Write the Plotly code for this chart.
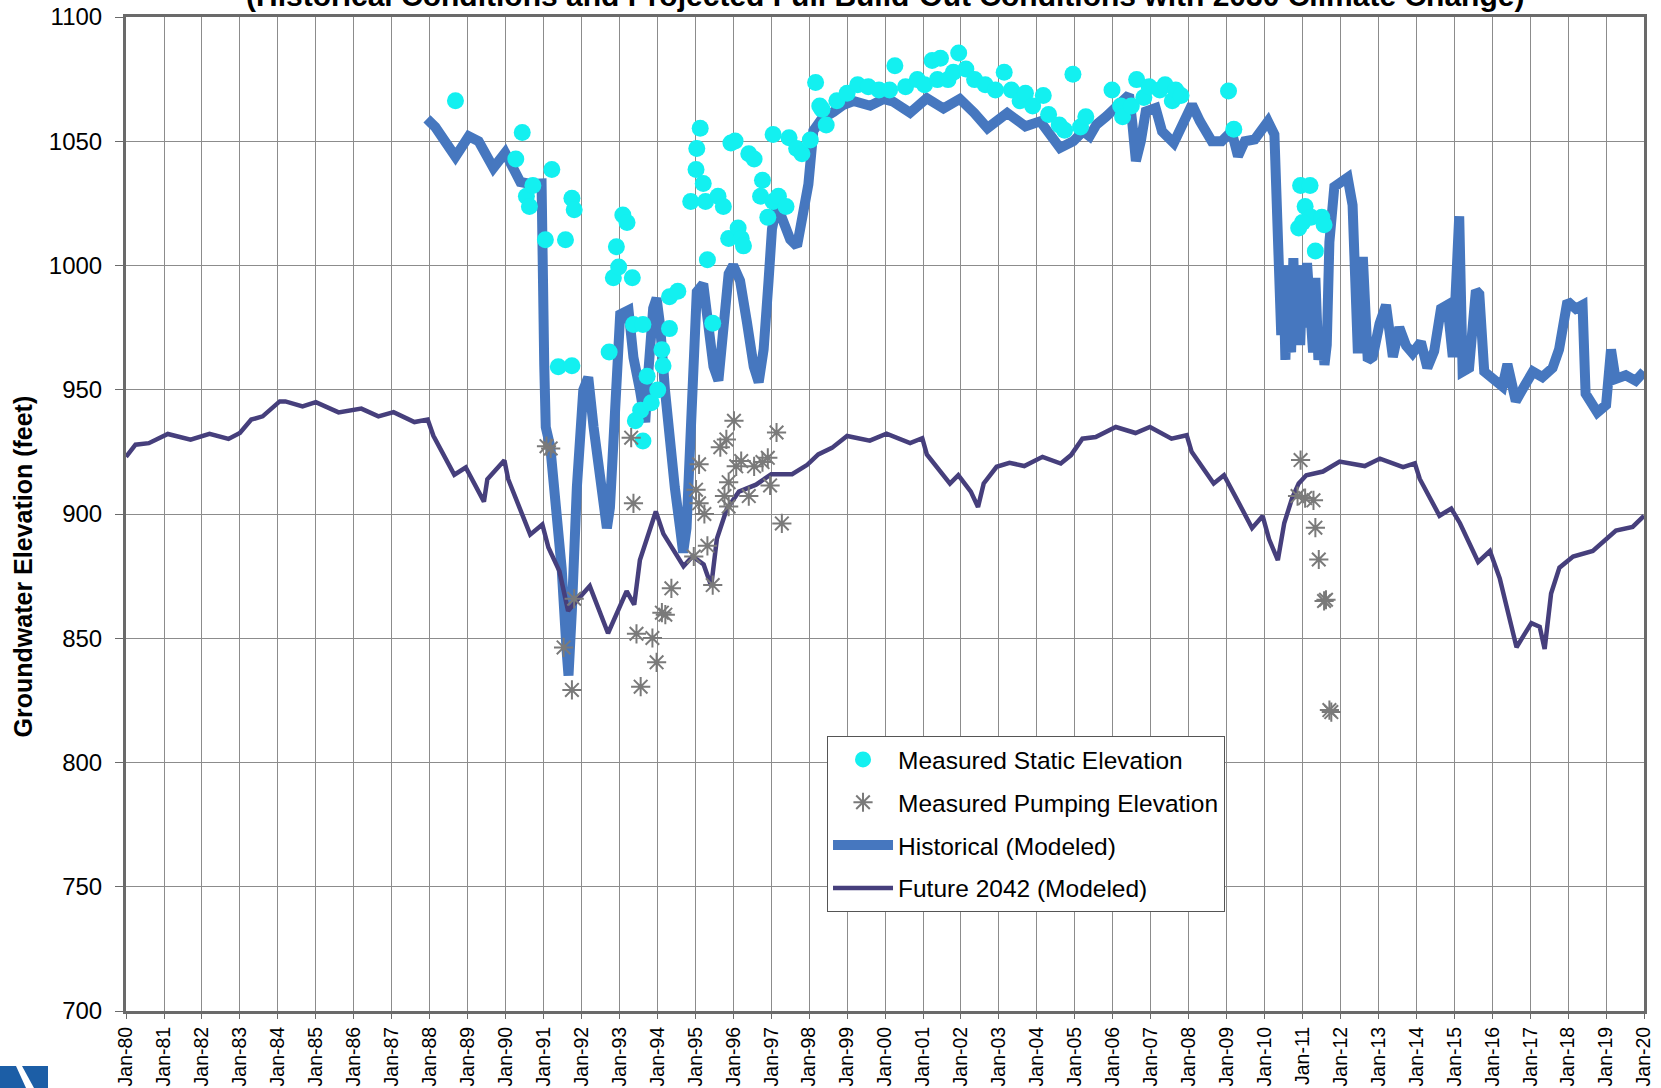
import pandas as pd
import plotly.graph_objects as go

# ---- series values (decimal year, elevation in feet) ----
hist_years = [
    1987.93, 1988.15, 1988.68, 1989.03, 1989.29, 1989.68, 1989.99, 1990.21, 1990.39, 1990.65,
    1990.95, 1991.02, 1991.06, 1991.18, 1991.35, 1991.48, 1991.61, 1991.66, 1991.75, 1991.88,
    1992.05, 1992.18, 1992.32, 1992.40, 1992.54, 1992.67, 1992.75, 1992.84, 1992.93, 1993.02,
    1993.24, 1993.37, 1993.54, 1993.68, 1993.76, 1993.89, 1993.98, 1994.07, 1994.20, 1994.33,
    1994.46, 1994.60, 1994.68, 1994.77, 1994.86, 1994.95, 1995.04, 1995.21, 1995.35, 1995.48,
    1995.61, 1995.75, 1995.88, 1996.00, 1996.18, 1996.36, 1996.54, 1996.67, 1996.80, 1996.93,
    1997.02, 1997.15, 1997.32, 1997.50, 1997.68, 1997.85, 1997.98, 1998.11, 1998.33, 1998.64,
    1998.89, 1999.17, 1999.61, 1999.96, 2000.22, 2000.66, 2001.10, 2001.54, 2001.97, 2002.35,
    2002.70, 2003.22, 2003.70, 2004.09, 2004.61, 2004.96, 2005.22, 2005.39, 2005.57, 2005.83,
    2006.17, 2006.43, 2006.52, 2006.61, 2006.74, 2006.87, 2007.13, 2007.30, 2007.61, 2007.91,
    2008.09, 2008.30, 2008.61, 2008.87, 2009.13, 2009.30, 2009.48, 2009.74, 2010.09, 2010.26,
    2010.35, 2010.44, 2010.50, 2010.55, 2010.62, 2010.70, 2010.76, 2010.82, 2010.88, 2010.94,
    2011.00, 2011.06, 2011.12, 2011.20, 2011.28, 2011.34, 2011.42, 2011.50, 2011.58, 2011.64,
    2011.71, 2011.84, 2012.02, 2012.19, 2012.32, 2012.46, 2012.59, 2012.72, 2012.85, 2013.03,
    2013.20, 2013.38, 2013.55, 2013.73, 2013.90, 2014.12, 2014.29, 2014.47, 2014.65, 2014.82,
    2014.96, 2015.13, 2015.22, 2015.39, 2015.57, 2015.66, 2015.79, 2016.01, 2016.27, 2016.40,
    2016.62, 2016.84, 2017.07, 2017.32, 2017.59, 2017.76, 2017.98, 2018.20, 2018.38, 2018.46,
    2018.77, 2019.00, 2019.13, 2019.25, 2019.52, 2019.78, 2020.00,
]
hist_elev = [
    1059.0, 1055.7, 1043.8, 1052.0, 1050.0, 1039.3, 1045.4, 1039.3, 1033.6, 1032.8,
    1033.0, 960.0, 935.0, 927.0, 902.5, 878.0, 845.0, 835.0, 861.5, 910.7,
    950.0, 955.0, 935.0, 927.0, 909.0, 894.3, 902.5, 935.0, 969.7, 980.3,
    982.0, 963.0, 950.0, 936.9, 956.6, 982.8, 986.9, 976.2, 950.0, 927.0,
    910.7, 894.3, 884.5, 894.3, 927.0, 968.0, 989.4, 992.6, 973.1, 959.3,
    953.7, 973.1, 996.7, 1000.1, 993.9, 977.3, 959.3, 953.0, 966.2, 993.9,
    1014.7, 1024.4, 1016.1, 1010.5, 1007.8, 1021.6, 1032.7, 1054.2, 1059.0, 1061.8,
    1064.5, 1066.2, 1064.3, 1067.0, 1065.9, 1061.5, 1067.3, 1063.2, 1067.0, 1061.4,
    1055.3, 1061.4, 1056.0, 1058.0, 1047.3, 1050.0, 1054.0, 1052.0, 1056.7, 1060.0,
    1064.7, 1068.7, 1056.7, 1042.0, 1050.0, 1062.0, 1063.4, 1054.0, 1049.3, 1059.4,
    1064.7, 1058.0, 1050.0, 1050.0, 1054.0, 1044.0, 1050.0, 1050.7, 1058.0, 1052.7,
    1020.0, 972.0, 995.0, 962.0, 1000.0, 965.0, 1003.0, 970.0, 1000.0, 968.0,
    998.0, 975.0, 1001.0, 978.0, 965.0, 995.0, 962.0, 975.0, 960.0, 968.0,
    1009.4, 1031.7, 1033.9, 1035.4, 1024.3, 964.7, 1003.4, 961.8, 963.2, 976.6,
    984.1, 963.2, 975.1, 967.7, 964.7, 969.2, 958.8, 965.5, 982.6, 984.1,
    963.2, 1019.8, 957.3, 958.8, 990.0, 988.5, 957.3, 954.3, 951.3, 960.3,
    945.4, 951.3, 957.3, 955.1, 958.8, 966.2, 985.6, 982.6, 984.1, 948.4,
    940.9, 943.9, 966.2, 954.3, 955.8, 953.6, 957.3,
]

future_years = [
    1980.00, 1980.25, 1980.60, 1981.10, 1981.70, 1982.20, 1982.70, 1983.00, 1983.30, 1983.60,
    1984.05, 1984.20, 1984.65, 1985.00, 1985.60, 1986.20, 1986.65, 1987.05, 1987.60, 1987.95,
    1988.10, 1988.65, 1988.95, 1989.43, 1989.52, 1989.97, 1990.07, 1990.65, 1990.97, 1991.13,
    1991.42, 1991.65, 1991.87, 1992.22, 1992.70, 1993.19, 1993.39, 1993.54, 1993.96, 1994.16,
    1994.69, 1994.93, 1995.22, 1995.42, 1995.57, 1995.83, 1996.15, 1996.60, 1997.00, 1997.55,
    1997.95, 1998.24, 1998.60, 1999.00, 1999.60, 2000.04, 2000.66, 2000.98, 2001.10, 2001.71,
    2001.93, 2002.26, 2002.45, 2002.60, 2002.94, 2003.28, 2003.67, 2004.15, 2004.63, 2004.90,
    2005.20, 2005.55, 2006.08, 2006.60, 2006.98, 2007.55, 2007.95, 2008.08, 2008.66, 2008.93,
    2009.32, 2009.67, 2009.95, 2010.12, 2010.35, 2010.52, 2010.73, 2010.90, 2011.10, 2011.54,
    2011.98, 2012.64, 2013.04, 2013.65, 2013.96, 2014.09, 2014.61, 2014.92, 2015.15, 2015.63,
    2015.94, 2016.20, 2016.64, 2017.03, 2017.25, 2017.38, 2017.55, 2017.77, 2018.13, 2018.65,
    2019.26, 2019.70, 2020.00,
]
future_elev = [
    923.0, 927.9, 928.5, 932.2, 929.9, 932.3, 930.2, 932.6, 938.0, 939.3,
    945.3, 945.3, 943.3, 945.0, 940.9, 942.4, 939.3, 941.0, 937.0, 938.0,
    931.5, 915.8, 918.7, 905.0, 914.0, 921.6, 914.0, 891.7, 895.8, 886.5,
    877.0, 861.0, 865.0, 871.0, 852.0, 869.0, 863.5, 881.5, 901.0, 892.0,
    879.0, 883.0, 879.7, 871.0, 890.0, 902.0, 909.0, 911.8, 916.0, 916.0,
    919.8, 924.0, 926.6, 931.4, 929.5, 932.3, 928.5, 930.5, 924.0, 912.2,
    915.6, 909.0, 902.8, 912.3, 919.0, 920.6, 919.3, 923.0, 920.3, 923.7,
    930.3, 931.0, 935.0, 932.6, 935.0, 930.3, 931.7, 925.0, 912.3, 915.6,
    904.5, 894.3, 899.2, 889.8, 881.4, 896.4, 906.5, 912.3, 915.6, 917.1,
    921.1, 919.3, 922.3, 918.9, 920.4, 914.1, 899.3, 902.2, 896.3, 880.7,
    885.1, 874.0, 846.4, 856.1, 854.6, 845.7, 868.0, 878.4, 882.9, 885.1,
    893.3, 894.8, 899.3,
]

static_years = [
    1988.68, 1990.44, 1990.27, 1990.55, 1990.63, 1990.72, 1991.22, 1991.05, 1991.58, 1991.75,
    1991.81, 1991.39, 1991.75, 1993.09, 1993.20, 1992.92, 1992.84, 1992.98, 1993.34, 1992.73,
    1993.37, 1993.62, 1993.56, 1993.62, 1993.42, 1993.73, 1993.84, 1994.12, 1994.15, 1994.01,
    1994.32, 1994.32, 1994.54, 1994.88, 1995.02, 1995.04, 1995.13, 1995.21, 1995.27, 1995.32,
    1995.46, 1995.60, 1995.74, 1995.94, 1996.05, 1995.88, 1996.13, 1996.21, 1996.27, 1996.41,
    1996.55, 1996.77, 1996.72, 1997.05, 1996.91, 1997.05, 1997.19, 1997.39, 1997.47, 1997.67,
    1997.81, 1998.03, 1998.17, 1998.28, 1998.45, 1998.34, 1998.73, 1999.00, 1999.28, 1999.56,
    1999.84, 2000.12, 2000.26, 2000.54, 2000.85, 2001.04, 2001.24, 2001.46, 2001.38, 2001.66,
    2001.94, 2001.80, 2002.13, 2002.36, 2002.64, 2002.91, 2003.14, 2003.33, 2003.56, 2003.70,
    2003.89, 2004.17, 2004.31, 2004.59, 2004.73, 2004.95, 2005.15, 2005.29, 2005.98, 2006.21,
    2006.26, 2006.49, 2006.63, 2006.82, 2006.96, 2007.24, 2007.38, 2007.57, 2007.66, 2007.80,
    2009.05, 2009.19, 2010.95, 2011.20, 2011.07, 2011.23, 2010.90, 2011.00, 2011.51, 2011.57,
    2011.34,
]
static_elev = [
    1066.3, 1053.5, 1042.9, 1027.9, 1023.7, 1032.2, 1038.6, 1010.4, 1010.4, 1027.1,
    1022.4, 959.3, 959.7, 1020.3, 1017.3, 1007.5, 995.1, 999.4, 995.1, 965.2,
    976.3, 976.3, 941.8, 929.4, 937.5, 955.4, 944.8, 966.1, 959.7, 949.9,
    974.6, 987.4, 989.6, 1025.8, 1038.6, 1047.1, 1055.2, 1033.0, 1025.8, 1002.3,
    976.8, 1027.9, 1023.7, 1049.3, 1050.1, 1010.9, 1015.1, 1010.9, 1007.9, 1045.0,
    1042.9, 1034.3, 1027.9, 1052.7, 1019.4, 1025.8, 1027.9, 1023.7, 1051.4, 1047.1,
    1045.0, 1050.5, 1073.6, 1064.2, 1056.5, 1062.9, 1066.3, 1069.3, 1072.7, 1071.9,
    1070.6, 1070.6, 1080.4, 1071.9, 1074.8, 1072.7, 1082.5, 1083.4, 1074.8, 1074.8,
    1085.5, 1077.8, 1079.1, 1074.8, 1072.7, 1070.6, 1077.8, 1070.6, 1066.3, 1069.3,
    1064.2, 1068.4, 1060.8, 1056.5, 1054.4, 1077.0, 1055.7, 1059.9, 1070.6, 1064.2,
    1059.9, 1064.2, 1074.8, 1067.6, 1071.9, 1070.6, 1072.7, 1066.3, 1070.6, 1068.4,
    1070.2, 1054.8, 1032.2, 1032.2, 1023.7, 1019.4, 1015.1, 1017.3, 1019.4, 1016.4,
    1005.8,
]

pumping_years = [
    1991.08, 1991.19, 1991.53, 1991.75, 1991.81, 1993.31, 1993.37, 1993.45, 1993.56, 1993.87,
    1993.98, 1994.12, 1994.21, 1994.37, 1994.96, 1995.10, 1995.02, 1995.24, 1995.10, 1995.32,
    1995.46, 1995.66, 1995.77, 1995.88, 1996.02, 1996.08, 1996.21, 1996.41, 1996.55, 1996.77,
    1996.91, 1996.97, 1997.14, 1997.28, 1995.88, 1995.82, 2010.95, 2010.87, 2011.07, 2011.29,
    2011.34, 2011.43, 2011.57, 2011.62, 2011.71, 2011.76,
]
pumping_elev = [
    927.3, 926.4, 846.3, 829.2, 865.9, 930.7, 904.3, 851.8, 830.5, 850.1,
    840.3, 860.3, 859.5, 870.1, 882.9, 920.0, 909.8, 900.0, 904.3, 887.2,
    871.4, 926.9, 907.2, 903.0, 937.5, 919.2, 921.3, 907.2, 919.2, 920.9,
    922.6, 911.5, 932.8, 896.2, 912.8, 930.0, 921.7, 907.2, 906.4, 905.5,
    894.5, 881.7, 865.0, 865.5, 821.1, 820.3,
]

tick_years = list(range(1980, 2021))
tick_labels = [f"Jan-{y % 100:02d}" for y in tick_years]

TITLE = "(Historical Conditions and Projected Full Build-Out Conditions with 2030 Climate Change)"
Y_TITLE = "Groundwater Elevation (feet)"


def to_dates(years):
    """Convert decimal years to timestamps for the date axis."""
    out = []
    for y in years:
        yr = int(y)
        start = pd.Timestamp(yr, 1, 1)
        end = pd.Timestamp(yr + 1, 1, 1)
        out.append(start + (end - start) * (y - yr))
    return out


FONT = "Arial, Liberation Sans, sans-serif"
GRID = "#8c8c8c"
AXIS = "#6a6a6a"

fig = go.Figure()

fig.add_trace(go.Scatter(
    x=to_dates(hist_years), y=hist_elev, mode="lines",
    name="Historical (Modeled)", legendrank=3, legendgroup="c",
    line=dict(color="#4677BF", width=10),
))
fig.add_trace(go.Scatter(
    x=to_dates(future_years), y=future_elev, mode="lines",
    name="Future 2042 (Modeled)", legendrank=4, legendgroup="d",
    line=dict(color="#463F7C", width=4.5),
))
fig.add_trace(go.Scatter(
    x=to_dates(static_years), y=static_elev, mode="markers",
    name="Measured Static Elevation", legendrank=1, legendgroup="a",
    marker=dict(symbol="circle", size=17, color="#13F0F0"),
))
fig.add_trace(go.Scatter(
    x=to_dates(pumping_years), y=pumping_elev, mode="markers",
    name="Measured Pumping Elevation", legendrank=2, legendgroup="b",
    marker=dict(symbol="asterisk-open", size=16, color="#7a7a7a",
                line=dict(color="#7a7a7a", width=2)),
))

fig.update_xaxes(
    type="date",
    range=["1980-01-01", "2020-01-01"],
    tickmode="array",
    tickvals=[f"{y}-01-01" for y in tick_years],
    ticktext=tick_labels,
    tickangle=-90,
    tickfont=dict(family=FONT, size=19.5, color="#000000"),
    showgrid=True, gridcolor=GRID, gridwidth=1,
    showline=True, linecolor=AXIS, linewidth=3, mirror=True,
    ticks="outside", ticklen=5, tickcolor=AXIS, tickwidth=1,
    zeroline=False, automargin=False,
)
fig.update_yaxes(
    range=[700, 1100],
    tick0=700, dtick=50,
    tickfont=dict(family=FONT, size=24, color="#000000"),
    showgrid=True, gridcolor=GRID, gridwidth=1,
    showline=True, linecolor=AXIS, linewidth=3, mirror=True,
    ticks="outside", ticklen=8, tickcolor=AXIS, tickwidth=1,
    ticklabelstandoff=8,
    zeroline=False, automargin=False,
)

fig.add_annotation(
    text=f"<b>{TITLE}</b>", xref="paper", yref="paper",
    x=0.5, y=1.0035, xanchor="center", yanchor="bottom", showarrow=False,
    font=dict(family=FONT, size=30, color="#000000"),
)
fig.add_annotation(
    text=f"<b>{Y_TITLE}</b>", xref="paper", yref="paper",
    x=-0.068, y=0.447, xanchor="center", yanchor="middle", showarrow=False,
    textangle=-90, font=dict(family=FONT, size=25, color="#000000"),
)

# partial logo mark in the lower-left corner
def px_to_paper(px, py):
    return (px - 126) / 1518, (1011 - py) / 994

logo_a = [(0, 1066), (16, 1066), (26, 1088), (0, 1088)]
logo_b = [(22, 1066), (48, 1066), (48, 1088), (34, 1088)]
for poly in (logo_a, logo_b):
    pts = [px_to_paper(*p) for p in poly]
    path = "M " + " L ".join(f"{x:.5f},{y:.5f}" for x, y in pts) + " Z"
    fig.add_shape(type="path", path=path, xref="paper", yref="paper",
                  fillcolor="#1C5EA6", line=dict(width=0), layer="above")

fig.update_layout(
    width=1661, height=1088,
    margin=dict(l=126, r=17, t=17, b=77),
    paper_bgcolor="#ffffff", plot_bgcolor="#ffffff",
    font=dict(family=FONT, color="#000000"),
    showlegend=True,
    legend=dict(
        x=0.4618, y=0.2767, xanchor="left", yanchor="top",
        bgcolor="#ffffff", bordercolor="#555555", borderwidth=1,
        font=dict(family=FONT, size=24.5, color="#000000"),
        traceorder="grouped", tracegroupgap=8, itemwidth=60,
    ),
)

fig.write_html("out.html")
